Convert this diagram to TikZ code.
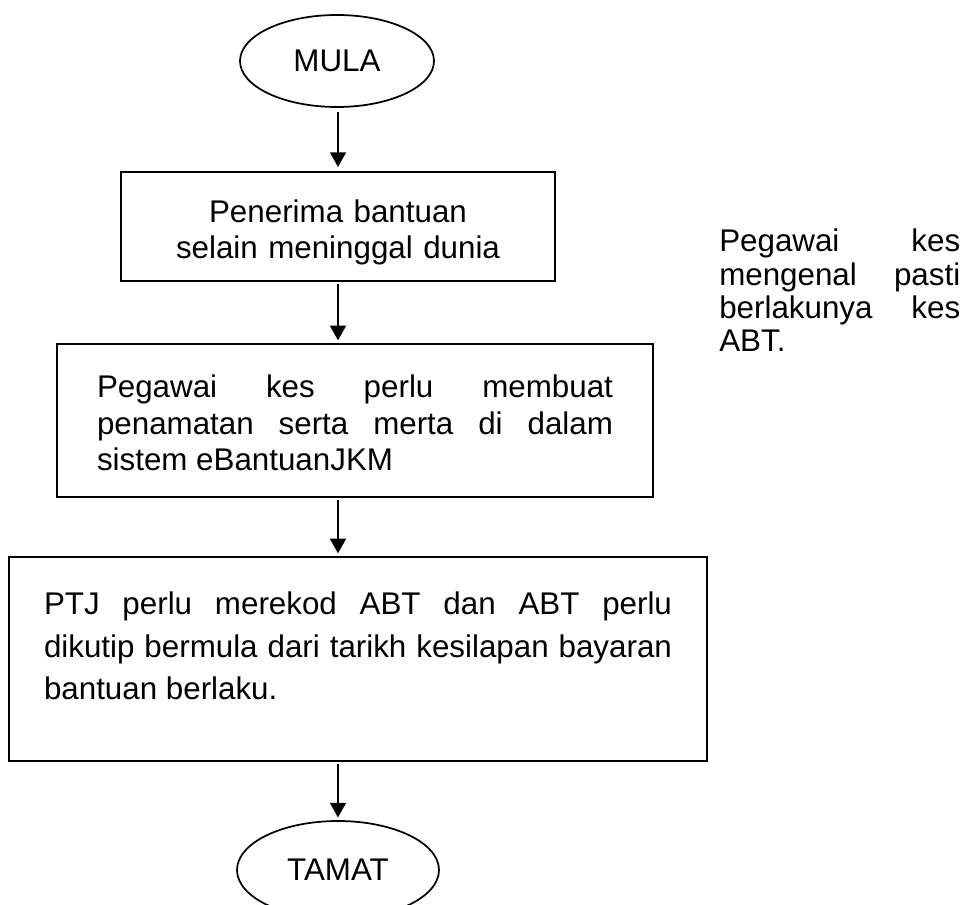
\documentclass[tikz,border=0pt]{standalone}
\usepackage{fontspec}
\setmainfont{Liberation Sans}
\usetikzlibrary{arrows.meta,shapes.geometric}
\tikzset{
  mainfont/.style={font=\fontsize{23.5pt}{#1}\selectfont},
  term/.style={draw, line width=1.3pt, ellipse, inner sep=0pt, font=\fontsize{23.5pt}{27pt}\selectfont},
  procbox/.style={draw, line width=1.3pt, rectangle, inner ysep=0pt, anchor=north},
  arr/.style={line width=1.2pt, -{Triangle[length=11pt,width=12pt]}, shorten <=2pt, shorten >=2pt}
}
\begin{document}
\begin{tikzpicture}[x=0.75pt,y=-0.75pt]
\useasboundingbox (0,0) rectangle (964,905);
\hyphenpenalty=10000
% MULA
\node[term, minimum width=145.5pt, minimum height=69pt] (mula) at (337,61) {MULA};
% Box 1
\node[procbox, mainfont=27pt, inner xsep=0pt, text width=325.5pt, align=center,
      text height=38.25pt, text depth=43.5pt] (box1) at (338,171)
  {Penerima bantuan\\selain meninggal dunia};
% Box 2
\node[procbox, mainfont=27.4pt, inner xsep=30pt, text width=387pt, align=justify,
      text height=40.5pt, text depth=74.25pt] (box2) at (355,343)
  {Pegawai kes perlu membuat\linebreak penamatan serta merta di dalam\linebreak sistem eBantuanJKM};
% Box 3
\node[procbox, mainfont=31.9pt, inner xsep=26.25pt, text width=471pt, align=justify,
      text height=43.5pt, text depth=109.5pt] (box3) at (358,556)
  {PTJ perlu merekod ABT dan ABT perlu\linebreak dikutip bermula dari tarikh kesilapan bayaran\linebreak bantuan berlaku.};
% TAMAT
\node[term, minimum width=151.5pt, minimum height=73.5pt] (tamat) at (338,870) {TAMAT};
% Side note
\node[mainfont=25pt, inner sep=0pt, text width=180.75pt, align=justify, anchor=base west] (note) at (719,252)
  {Pegawai kes\linebreak mengenal pasti\linebreak berlakunya kes\linebreak ABT.};
% Connectors
\draw[arr, shorten <=3pt, shorten >=3pt] (mula.south -| box1.north) -- (box1.north);
\draw[arr] (box1.south) -- (box1.south |- box2.north);
\draw[arr] (box2.south -| box1.south) -- (box3.north -| box1.south);
\draw[arr] (box3.south -| tamat.north) -- (tamat.north);
\end{tikzpicture}
\end{document}
